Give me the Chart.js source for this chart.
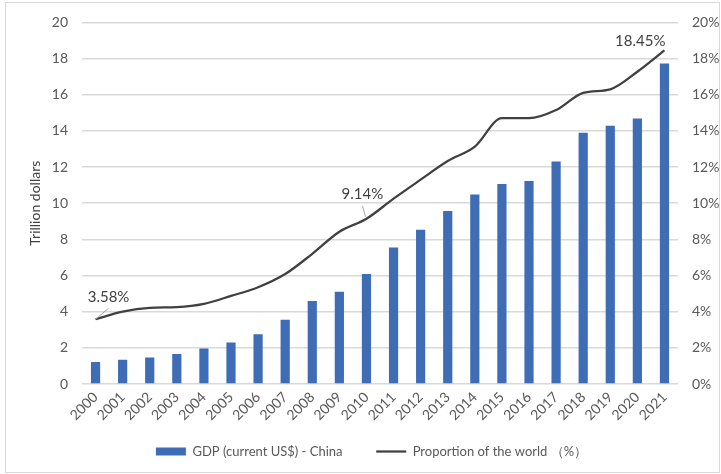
<!DOCTYPE html>
<html>
<head>
<meta charset="utf-8">
<script src="https://cdn.jsdelivr.net/npm/chart.js@4"></script>
<style>
  html, body { margin: 0; padding: 0; background: #fff; }
  #wrap { width: 721px; height: 474px; }
</style>
</head>
<body>
<div id="wrap"><canvas id="gdp-chart" width="721" height="474"></canvas></div>
<script>
// years on the x axis
const years = ['2000','2001','2002','2003','2004','2005','2006','2007','2008','2009','2010',
  '2011','2012','2013','2014','2015','2016','2017','2018','2019','2020','2021'];
// GDP, trillion US$
const gdpValues = [1.21, 1.34, 1.47, 1.66, 1.96, 2.29, 2.75, 3.55, 4.59, 5.10, 6.09,
  7.55, 8.53, 9.57, 10.48, 11.06, 11.23, 12.31, 13.89, 14.28, 14.69, 17.73];
// share of world GDP, %
const shareValues = [3.58, 4.0, 4.21, 4.25, 4.43, 4.87, 5.35, 6.08, 7.2, 8.42, 9.14,
  10.25, 11.3, 12.33, 13.13, 14.7, 14.7, 15.15, 16.1, 16.3, 17.27, 18.45];
// points that carry a value label
const labelledPoints = [0, 10, 21];

const fontFamily = 'Lato, "Liberation Sans", sans-serif';
const tickColor = '#595959';
const gridColor = '#d9d9d9';

// outer frame like the Excel chart border
const framePlugin = {
  id: 'frame',
  beforeDraw(chart) {
    const ctx = chart.ctx;
    ctx.save();
    ctx.fillStyle = '#fff';
    ctx.fillRect(0, 0, chart.width, chart.height);
    ctx.strokeStyle = '#d9d9d9';
    ctx.lineWidth = 1;
    ctx.strokeRect(5.5, 2.5, 714, 470);
    ctx.restore();
  }
};

// value labels for 2000, 2010, 2021 with small leader lines
const pointLabelPlugin = {
  id: 'pointLabels',
  afterDatasetsDraw(chart) {
    const ctx = chart.ctx;
    const meta = chart.getDatasetMeta(1);
    ctx.save();
    ctx.font = '15px ' + fontFamily;
    ctx.fillStyle = '#404040';
    ctx.textBaseline = 'middle';
    labelledPoints.forEach(i => {
      const pt = meta.data[i];
      const txt = shareValues[i].toFixed(2) + '%';
      ctx.strokeStyle = '#a6a6a6';
      ctx.lineWidth = 1;
      if (i === 0) {
        ctx.beginPath();
        ctx.moveTo(pt.x, pt.y);
        ctx.lineTo(pt.x + 13, pt.y - 11);
        ctx.stroke();
        ctx.textAlign = 'center';
        ctx.fillText(txt, pt.x + 13, pt.y - 22);
      } else if (i === 10) {
        ctx.beginPath();
        ctx.moveTo(pt.x - 1, pt.y - 2);
        ctx.lineTo(pt.x - 4, pt.y - 13);
        ctx.stroke();
        ctx.textAlign = 'center';
        ctx.fillText(txt, pt.x - 4, pt.y - 25);
      } else {
        ctx.textAlign = 'right';
        ctx.fillText(txt, pt.x + 1, pt.y - 9);
      }
    });
    ctx.restore();
  }
};

new Chart(document.getElementById('gdp-chart'), {
  type: 'bar',
  data: {
    labels: years,
    datasets: [{
      label: 'GDP (current US$) - China',
      data: gdpValues,
      backgroundColor: '#3e6db5',
      borderWidth: 0,
      barPercentage: 0.34,
      categoryPercentage: 1,
      yAxisID: 'y',
      order: 2
    }, {
      type: 'line',
      label: 'Proportion of the world （%）',
      data: shareValues,
      borderColor: '#404040',
      backgroundColor: '#404040',
      borderWidth: 2.25,
      pointRadius: 0,
      cubicInterpolationMode: 'monotone',
      yAxisID: 'y1',
      order: 1
    }]
  },
  options: {
    responsive: false,
    animation: false,
    layout: { padding: { left: 22, right: 0, top: 20, bottom: 6 } },
    plugins: {
      tooltip: { enabled: false },
      legend: {
        position: 'bottom',
        labels: {
          color: tickColor,
          font: { family: fontFamily, size: 13 },
          usePointStyle: true,
          pointStyleWidth: 30,
          boxHeight: 8,
          padding: 17,
          generateLabels(chart) {
            return chart.data.datasets.map((ds, i) => ({
              // trailing spaces widen the gap between the two legend entries
              text: ds.type === 'line' ? ds.label : ds.label + '     ',
              datasetIndex: i,
              fillStyle: ds.type === 'line' ? 'transparent' : ds.backgroundColor,
              strokeStyle: ds.type === 'line' ? ds.borderColor : ds.backgroundColor,
              lineWidth: ds.type === 'line' ? 2.25 : 0,
              pointStyle: ds.type === 'line' ? 'line' : 'rect',
              fontColor: tickColor
            }));
          }
        }
      }
    },
    scales: {
      x: {
        grid: { display: false, drawTicks: false },
        border: { display: false },
        ticks: {
          color: tickColor,
          font: { family: fontFamily, size: 14 },
          minRotation: 45,
          maxRotation: 45,
          autoSkip: false,
          padding: 5
        },
        afterFit(scale) { scale.height = 44; }
      },
      y: {
        position: 'left',
        min: 0,
        max: 20,
        ticks: {
          stepSize: 2,
          color: tickColor,
          font: { family: fontFamily, size: 14 },
          padding: 14
        },
        grid: { color: gridColor, lineWidth: 1.5, drawTicks: false },
        border: { display: false },
        title: {
          display: true,
          text: 'Trillion dollars',
          color: '#404040',
          font: { family: fontFamily, size: 14 },
          padding: { top: 5, bottom: 0 }
        },
        afterFit(scale) { scale.width = 60; }
      },
      y1: {
        position: 'right',
        min: 0,
        max: 20,
        ticks: {
          stepSize: 2,
          color: tickColor,
          font: { family: fontFamily, size: 14 },
          padding: 14,
          callback: v => v + '%'
        },
        grid: { drawOnChartArea: false, drawTicks: false },
        border: { display: false },
        afterFit(scale) { scale.width = 43; }
      }
    }
  },
  plugins: [framePlugin, pointLabelPlugin]
});
</script>
</body>
</html>
